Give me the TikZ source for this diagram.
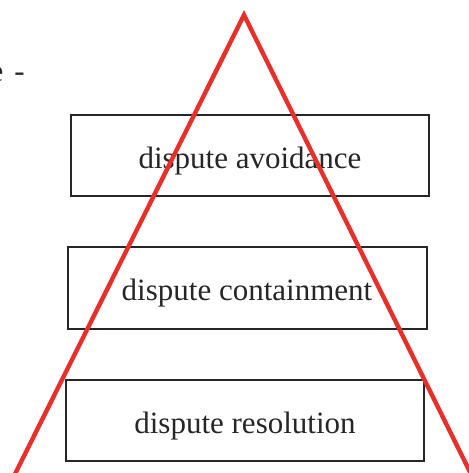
\documentclass[tikz,border=0pt]{standalone}
\usepackage{fontspec}
\setmainfont{Liberation Serif}
\definecolor{tri}{HTML}{E8302A}
\definecolor{ink}{HTML}{262626}
\begin{document}
\begin{tikzpicture}[x=1pt,y=-1pt,
  level/.style={draw=ink,line width=2.5pt,inner sep=0pt,text=ink,font=\fontsize{31}{36}\selectfont},
  legline/.style={draw=tri,line width=4.4pt}]
\useasboundingbox (0,0) rectangle (468,473);
\node[level,minimum width=358pt,minimum height=81pt] (b1) at (250,155.5) {};
\node[level,minimum width=359pt,minimum height=82pt] (b2) at (247.5,288) {};
\node[level,minimum width=358pt,minimum height=81pt] (b3) at (245,420.5) {};
\node[level,draw=none,anchor=base] (t1) at (250,168) {dispute avoidance};
\node[level,draw=none,anchor=base] (t2) at (247,300) {dispute containment};
\node[level,draw=none,anchor=base] (t3) at (245,433) {dispute resolution};
\node[level,draw=none,anchor=base east] (cut) at (26,82) {e\hspace{11pt}-};
\coordinate (apex) at (244,15);
\coordinate (bl) at (14,476);
\coordinate (br) at (472,476);
\draw[legline,line join=miter] (bl) -- (apex) -- (br);
\end{tikzpicture}
\end{document}
